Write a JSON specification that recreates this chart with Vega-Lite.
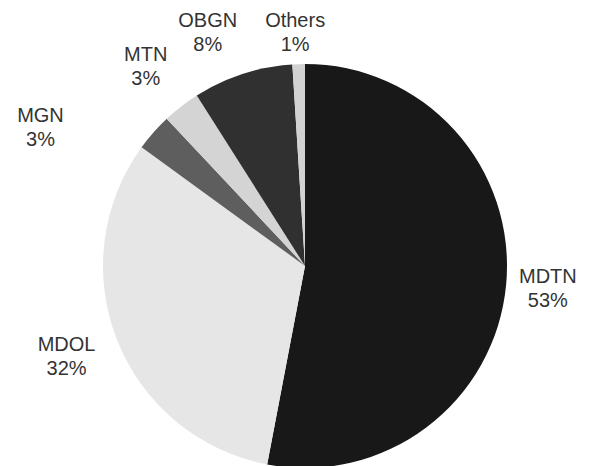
{
  "$schema": "https://vega.github.io/schema/vega-lite/v6.json",
  "autosize": {"type": "none"},
  "width": 400,
  "height": 400,
  "padding": {"left": 105, "top": 66, "right": 84, "bottom": 0},
  "background": "white",
  "view": {"stroke": null},
  "data": {
    "values": [
      {"idx": 1, "category": "MDTN", "value": 53},
      {"idx": 2, "category": "MDOL", "value": 32},
      {"idx": 3, "category": "MGN", "value": 3},
      {"idx": 4, "category": "MTN", "value": 3},
      {"idx": 5, "category": "OBGN", "value": 8},
      {"idx": 6, "category": "Others", "value": 1}
    ]
  },
  "transform": [
    {"calculate": "datum.category + '\\n' + datum.value + '%'", "as": "label"}
  ],
  "encoding": {
    "theta": {"field": "value", "type": "quantitative", "stack": true},
    "order": {"field": "idx", "type": "quantitative", "sort": "ascending"}
  },
  "layer": [
    {
      "mark": {"type": "arc", "radius": 202, "stroke": null},
      "encoding": {
        "color": {
          "field": "category",
          "type": "nominal",
          "scale": {
            "domain": ["MDTN", "MDOL", "MGN", "MTN", "OBGN", "Others"],
            "range": ["#181818", "#e6e6e6", "#5e5e5e", "#d4d4d4", "#303030", "#d2d2d2"]
          },
          "legend": null
        }
      }
    },
    {
      "mark": {"type": "text", "radius": 250, "dx": -6, "dy": -13, "font": "Liberation Sans", "fontSize": 20, "lineHeight": 24, "lineBreak": "\n", "color": "#333", "align": "center", "baseline": "middle"},
      "encoding": {
        "text": {"condition": {"test": "datum.category === 'MDTN' || datum.category === 'MDOL' || datum.category === 'MTN'", "field": "label"}, "value": ""}
      }
    },
    {
      "mark": {"type": "text", "radius": 250, "dx": -77, "dy": 15, "font": "Liberation Sans", "fontSize": 20, "lineHeight": 24, "lineBreak": "\n", "color": "#333", "align": "center", "baseline": "middle"},
      "encoding": {
        "text": {"condition": {"test": "datum.category === 'MGN'", "field": "label"}, "value": ""}
      }
    },
    {
      "mark": {"type": "text", "radius": 250, "dx": -20, "dy": -7, "font": "Liberation Sans", "fontSize": 20, "lineHeight": 24, "lineBreak": "\n", "color": "#333", "align": "center", "baseline": "middle"},
      "encoding": {
        "text": {"condition": {"test": "datum.category === 'OBGN'", "field": "label"}, "value": ""}
      }
    },
    {
      "mark": {"type": "text", "radius": 250, "dx": -2, "dy": 5, "font": "Liberation Sans", "fontSize": 20, "lineHeight": 24, "lineBreak": "\n", "color": "#333", "align": "center", "baseline": "middle"},
      "encoding": {
        "text": {"condition": {"test": "datum.category === 'Others'", "field": "label"}, "value": ""}
      }
    }
  ]
}
